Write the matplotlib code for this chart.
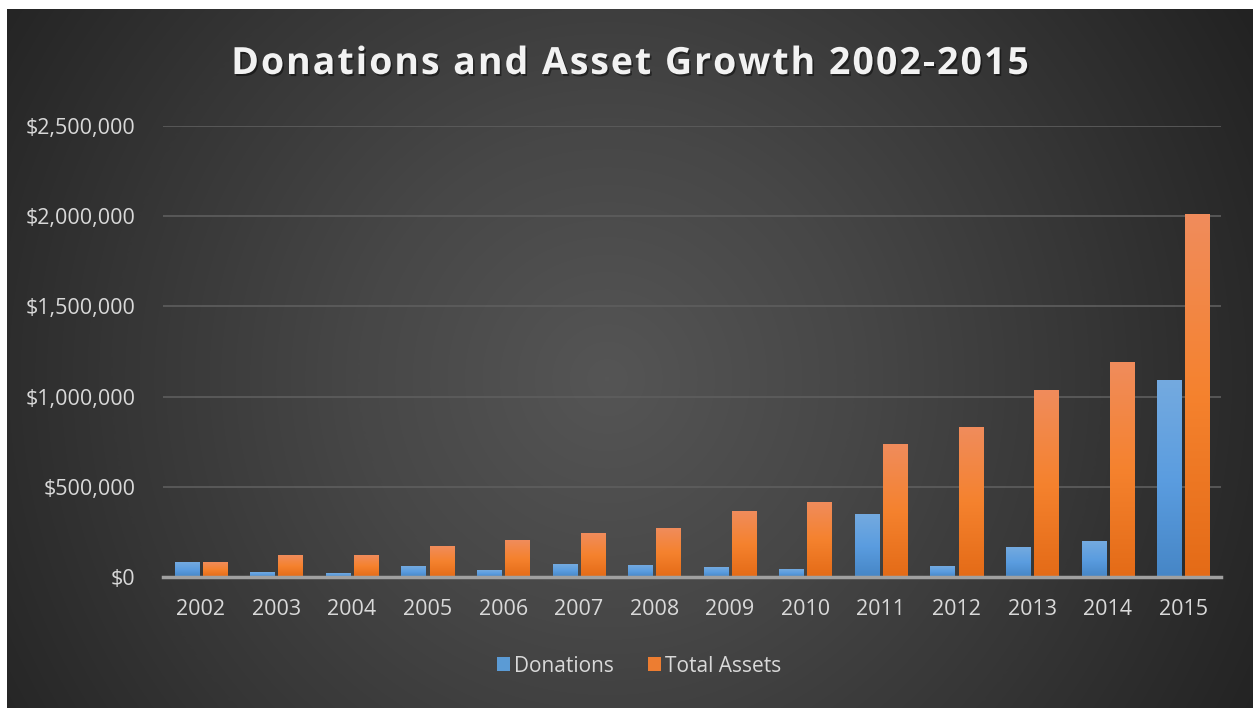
import numpy as np
import matplotlib.pyplot as plt
import matplotlib.patheffects as pe
from matplotlib.ticker import FuncFormatter
from matplotlib.colors import LinearSegmentedColormap
from matplotlib.font_manager import FontProperties
from matplotlib.patches import Patch

years = ["2002", "2003", "2004", "2005", "2006", "2007", "2008",
         "2009", "2010", "2011", "2012", "2013", "2014", "2015"]
donations = [82000, 26000, 21000, 59000, 37000, 67000, 61000,
             50000, 39000, 344000, 59000, 165000, 198000, 1087000]
total_assets = [82000, 121000, 121000, 171000, 204000, 239000, 267000,
                361000, 411000, 732000, 826000, 1032000, 1187000, 2009000]
title = "Donations and Asset Growth 2002-2015"

plt.rcParams['font.family'] = ['Open Sans', 'DejaVu Sans']

W, H = 1253, 708
fig = plt.figure(figsize=(W / 100, H / 100), dpi=100)
fig.patch.set_facecolor("white")

# radial gradient background
bg = fig.add_axes([7 / W, 0, 1 - 7 / W, 1 - 9 / H])
bg.set_axis_off()
yy, xx = np.mgrid[0:700, 0:1246]
r = np.sqrt((xx - 600) ** 2 + (yy - 370) ** 2)
r = r / r.max()
bg_cmap = LinearSegmentedColormap.from_list("bg", ["#555555", "#474747", "#353535", "#222222"])
bg.imshow(r, cmap=bg_cmap, aspect="auto", extent=(0, 1, 0, 1), vmin=0, vmax=1)
bg.set_xlim(0, 1)
bg.set_ylim(0, 1)

ax = fig.add_axes([163 / W, 1 - 577 / H, (1221 - 163) / W, (577 - 126) / H])
ax.patch.set_alpha(0)

x = np.arange(len(years))
w = 0.318
off = 0.027 + w / 2

blue_cmap = LinearSegmentedColormap.from_list("b", ["#4686c6", "#5b9de0", "#74aadf"])
orange_cmap = LinearSegmentedColormap.from_list("o", ["#e46b17", "#f5822e", "#f08c5c"])

for vals, pos, cmap in [(donations, x - off, blue_cmap), (total_assets, x + off, orange_cmap)]:
    bars = ax.bar(pos, vals, width=w, color="none", zorder=3)
    for b in bars:
        x0, y0 = b.get_x(), b.get_y()
        bw, bh = b.get_width(), b.get_height()
        grad = np.linspace(0, 1, 256).reshape(-1, 1)
        ax.imshow(grad, cmap=cmap, aspect="auto", origin="lower",
                  extent=(x0, x0 + bw, y0, y0 + bh), zorder=3)

ax.set_xlim(-0.5, len(years) - 0.5)
ax.set_ylim(0, 2500000)
ax.set_yticks(np.arange(0, 2500001, 500000))
ax.yaxis.set_major_formatter(FuncFormatter(lambda v, p: "${:,.0f}".format(v)))
ax.set_xticks(x)
ax.set_xticklabels(years)
ax.grid(axis="y", color="#5e5e5e", linewidth=1.2, zorder=0)
ax.set_axisbelow(True)
for s in ["top", "right", "left"]:
    ax.spines[s].set_visible(False)
ax.spines["bottom"].set_color("#a0a0a0")
ax.spines["bottom"].set_linewidth(2.5)
ax.spines["bottom"].set_zorder(4)
ax.tick_params(axis="both", length=0, colors="#d9d9d9", labelsize=15.5)
ax.tick_params(axis="y", pad=20)
ax.tick_params(axis="x", pad=16)

# title with letter spacing, placed char by char
prop = FontProperties(family="Open Sans", weight="bold", size=27)
renderer = fig.canvas.get_renderer()
adv = [renderer.get_text_width_height_descent(ch, prop, ismath=False)[0] for ch in title]
track = 2.0
total = sum(adv) + track * (len(title) - 1)
cx = 630.0
px = cx - total / 2
for ch, a in zip(title, adv):
    fig.text(px / W, 1 - 64 / H, ch, ha="left", va="center", color="#f2f2f2",
             fontproperties=prop,
             path_effects=[pe.withSimplePatchShadow(offset=(1.2, -1.5), shadow_rgbFace="black", alpha=0.45)])
    px += a + track

handles = [Patch(facecolor="#5b9bd5", label="Donations"),
           Patch(facecolor="#ed7d31", label="Total Assets")]
fig.legend(handles=handles, loc="center", bbox_to_anchor=(0.51, 1 - 666 / H), ncol=2,
           frameon=False, fontsize=15, labelcolor="#d9d9d9",
           handlelength=0.65, handleheight=0.65, handletextpad=0.2, columnspacing=1.6)

fig.savefig("out.png", dpi=100)
